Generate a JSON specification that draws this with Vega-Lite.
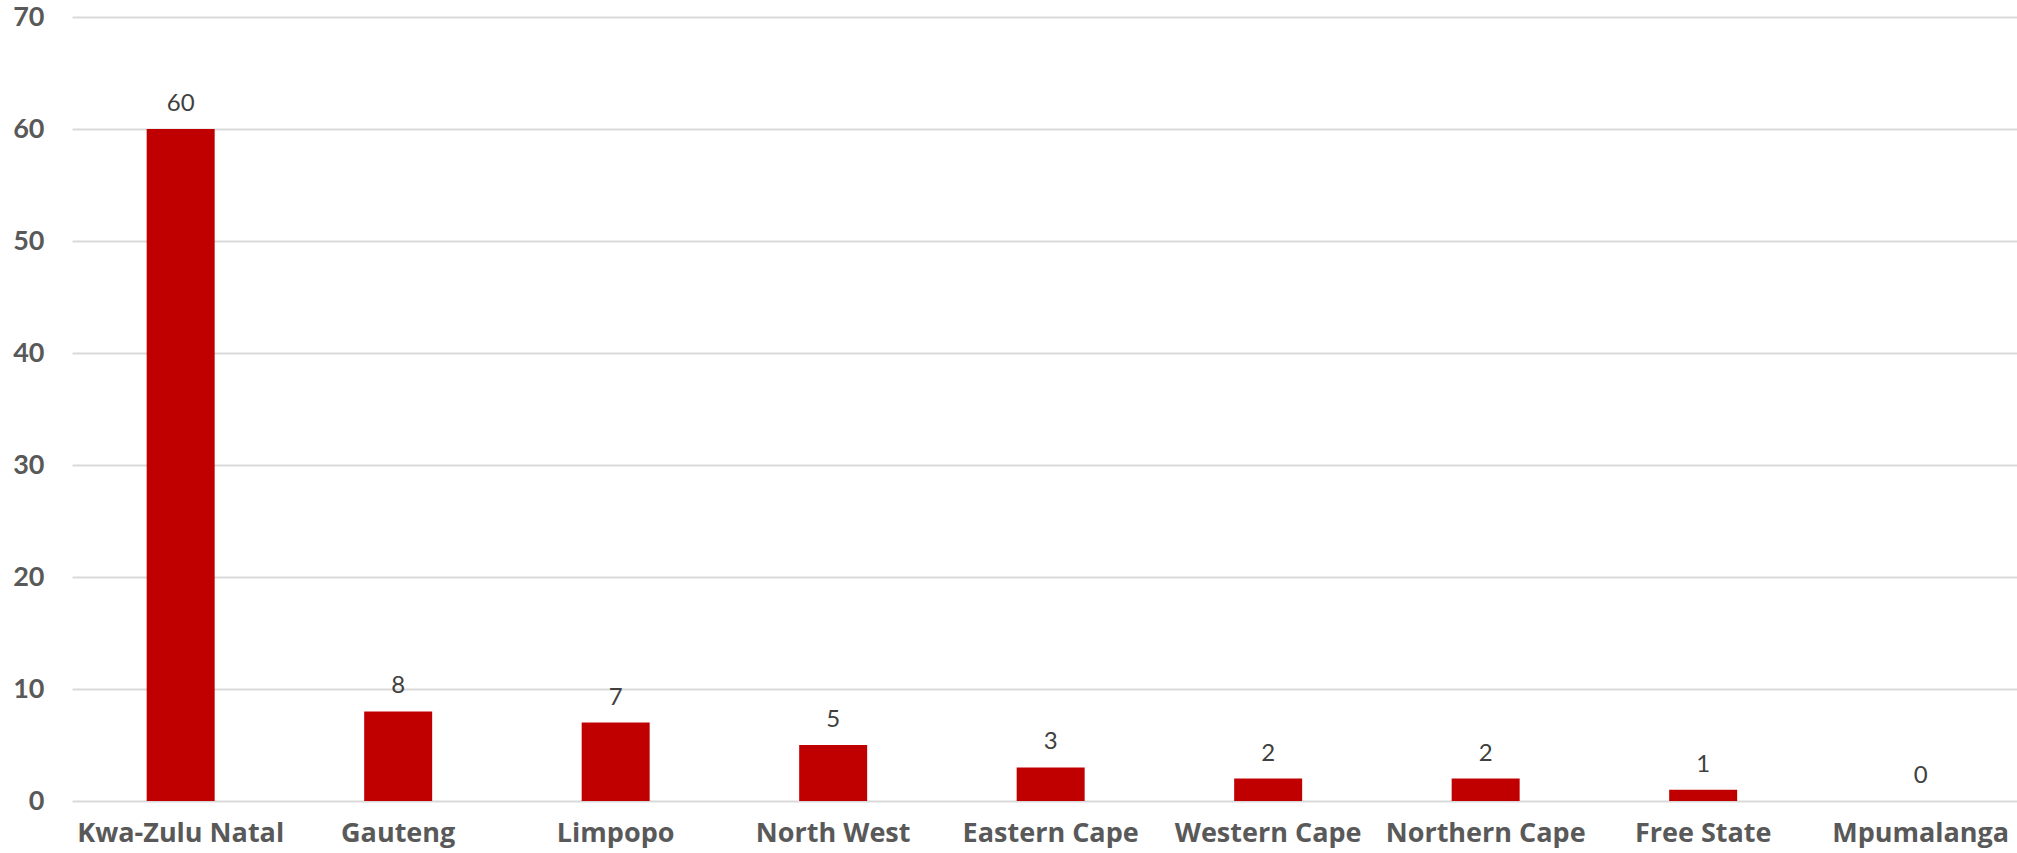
{
  "$schema": "https://vega.github.io/schema/vega-lite/v6.json",
  "width": 1945,
  "height": 784,
  "autosize": {"type": "none"},
  "padding": {"left": 72, "top": 17, "right": 0, "bottom": 52},
  "background": "white",
  "config": {"view": {"stroke": null}},
  "data": {
    "values": [
      {"province": "Kwa-Zulu Natal", "count": 60},
      {"province": "Gauteng", "count": 8},
      {"province": "Limpopo", "count": 7},
      {"province": "North West", "count": 5},
      {"province": "Eastern Cape", "count": 3},
      {"province": "Western Cape", "count": 2},
      {"province": "Northern Cape", "count": 2},
      {"province": "Free State", "count": 1},
      {"province": "Mpumalanga", "count": 0}
    ]
  },
  "encoding": {
    "x": {
      "field": "province",
      "type": "nominal",
      "sort": null,
      "scale": {"paddingInner": 0.6874, "paddingOuter": 0.315, "align": 0.545},
      "axis": {
        "title": null,
        "labelAngle": 0,
        "labelFont": "Open Sans",
        "labelFontWeight": "bold",
        "labelFontSize": 27,
        "labelColor": "#595959",
        "labelPadding": 19,
        "labelLimit": 0,
        "labelOverlap": false,
        "ticks": false,
        "domain": false,
        "grid": false
      }
    },
    "y": {
      "field": "count",
      "type": "quantitative",
      "scale": {"domain": [0, 70], "nice": false},
      "axis": {
        "title": null,
        "values": [0, 10, 20, 30, 40, 50, 60, 70],
        "labelFont": "Lato",
        "labelFontWeight": "bold",
        "labelFontSize": 27,
        "labelColor": "#595959",
        "labelPadding": 28,
        "ticks": false,
        "domain": false,
        "grid": true,
        "gridColor": "#d9d9d9",
        "gridWidth": 2
      }
    }
  },
  "layer": [
    {"mark": {"type": "bar", "color": "#c00000"}},
    {
      "mark": {
        "type": "text",
        "baseline": "alphabetic",
        "dy": -18,
        "font": "Lato",
        "fontSize": 24,
        "color": "#404040"
      },
      "encoding": {"text": {"field": "count", "type": "quantitative"}}
    }
  ]
}
